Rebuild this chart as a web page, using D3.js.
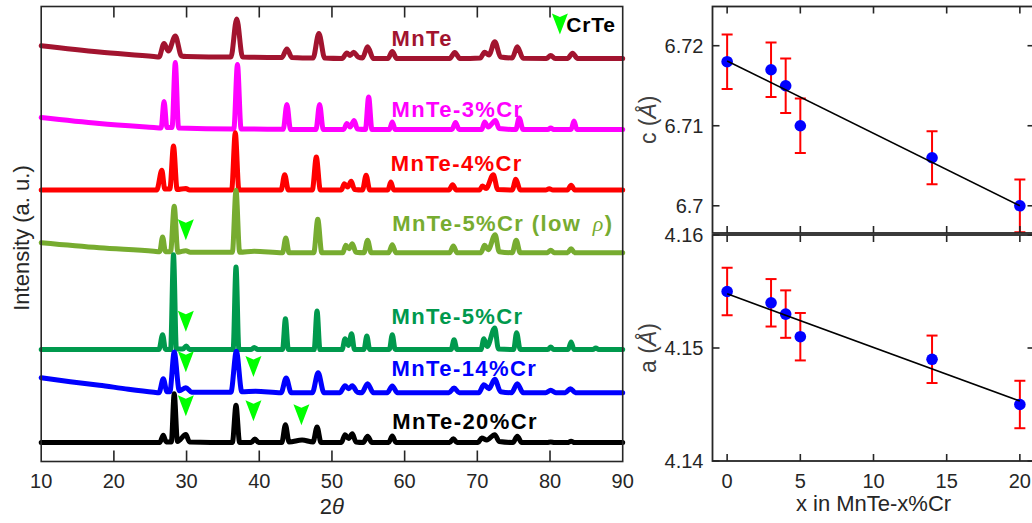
<!DOCTYPE html>
<html><head><meta charset="utf-8">
<script src="https://cdn.jsdelivr.net/npm/d3@7"></script>
<style>
body{margin:0;background:#fff;}
svg text{font-family:"Liberation Sans",Arial,sans-serif;}
</style></head>
<body><svg id="c" width="1032" height="523"></svg>
<script>
// ---------------- DATA ----------------
const thetaTicks = [10,20,30,40,50,60,70,80,90];
const seriesNames = ["MnTe","MnTe-3%Cr","MnTe-4%Cr","MnTe-5%Cr (low ρ)","MnTe-5%Cr","MnTe-14%Cr","MnTe-20%Cr"];
// vertical stacking offsets (a.u.)
const offsets = [403, 332, 271.5, 208.8, 112, 68.8, 19];
// XRD patterns: [2theta, intensity above offset (a.u.)]
const xrdMnTe = [[10,12.8],[18,6.5],[25.5,2],[26.2,1.5],[26.9,15],[27.5,7.5],[28.45,22.5],[29.3,2.5],[30,2],[36.1,1.5],[36.9,39.5],[37.7,1.5],[43.1,1],[43.8,9.5],[44.5,1],[47.4,0.5],[48.2,25],[49.0,0.5],[51.4,0],[52.05,5.5],[52.5,3],[53.0,6.3],[53.6,1.5],[54.2,0.5],[54.9,11.8],[55.7,0],[57.7,0],[58.3,7],[58.9,0],[66.2,0],[66.9,6],[67.6,0],[70.4,0.5],[71.0,6.3],[71.6,3.5],[72.4,16.8],[73.2,1.5],[74.8,0.5],[75.5,11.8],[76.3,0.2],[79.5,0],[80.1,3],[80.7,0],[82.4,0],[83.1,5.3],[83.8,0],[90,0]];
const xrdCr3 = [[10,12],[18,6],[25.5,2],[26.5,1.5],[26.9,28],[27.3,2],[28.0,2],[28.45,67],[28.9,1.5],[36.5,0.5],[37.0,65],[37.5,0.5],[43.3,0.3],[43.8,25],[44.3,0],[47.8,0],[48.3,25],[48.8,0],[51.6,0],[52.05,6],[52.5,2.5],[53.05,9],[53.5,0.5],[54.6,0],[55.05,32.5],[55.5,0],[57.9,0],[58.3,7.5],[58.7,0],[66.5,0],[67.0,7],[67.5,0],[70.6,0],[71.0,7.5],[71.5,2.5],[72.5,9],[73.0,1],[75.3,0],[75.75,11.5],[76.3,0],[79.7,0],[80.1,1.5],[80.5,0],[82.9,0],[83.3,8.5],[83.7,0],[90,0]];
const xrdCr4 = [[10,0],[25.9,0],[26.6,19.7],[27.0,1],[27.7,1],[28.2,44],[28.7,0.5],[29.9,1.5],[30.4,0],[36.2,0],[36.7,57.3],[37.2,0],[43.0,0],[43.5,15.3],[44.0,0],[47.3,0],[47.85,33],[48.4,0],[51.3,0],[51.7,6.3],[52.15,3],[52.65,8.7],[53.1,0.5],[54.2,0],[54.7,14.7],[55.2,0],[57.7,0],[58.1,8],[58.5,0],[66.1,0],[66.6,5.3],[67.1,0],[70.3,0],[70.7,4],[71.2,1.5],[72.2,15.3],[72.8,0.5],[74.8,0],[75.3,10.7],[75.9,0],[79.4,0],[79.9,1.3],[80.4,0],[82.4,0],[82.9,4.7],[83.4,0],[90,0]];
const xrdCr5low = [[10,10],[18,5],[25.5,1.5],[26.3,1],[26.7,15.7],[27.1,1],[27.8,1],[28.3,46.4],[28.8,0.5],[29.9,2],[30.5,0.5],[36.3,0.5],[36.8,62.4],[37.3,0.5],[39.3,1.5],[43.2,0],[43.65,14.7],[44.1,0],[47.5,0],[48.05,33.4],[48.6,0],[51.5,0],[51.9,7.4],[52.35,4],[52.8,9],[53.3,0.5],[54.4,0],[54.9,12.4],[55.4,0],[57.8,0],[58.3,8],[58.8,0],[66.2,0],[66.7,6.7],[67.2,0],[70.5,0],[71.0,7.4],[71.5,3],[72.45,18],[73.0,1],[74.8,0],[75.35,12.4],[75.9,0],[79.6,0],[80.1,2.4],[80.6,0],[82.4,0],[82.9,4],[83.4,0],[90,0]];
const xrdCr5 = [[10,0],[26.2,0],[26.7,14.8],[27.1,0],[27.8,0],[28.2,94.8],[28.6,0.5],[29.5,0.5],[29.95,3.5],[30.4,0],[36.4,0],[36.8,82.5],[37.2,0],[38.9,0],[39.3,2],[39.8,0],[43.2,0],[43.6,30.8],[44.0,0],[47.55,0],[47.95,38.5],[48.35,0],[51.4,0],[51.8,10.8],[52.25,4],[52.7,15.8],[53.1,0],[54.4,0],[54.8,13.5],[55.2,0],[57.9,0],[58.3,14.8],[58.7,0],[66.4,0],[66.8,9.8],[67.2,0],[70.5,0],[70.9,10.8],[71.35,3],[72.4,21.5],[72.9,0.5],[75.0,0],[75.4,16.8],[75.9,0],[79.7,0],[80.1,2.5],[80.5,0],[82.5,0],[82.9,7.5],[83.3,0],[85.9,0],[86.3,1.5],[86.7,0],[90,0]];
const xrdCr14 = [[10,15],[14,11],[18,7.5],[22,3.5],[25.5,0.5],[26.2,0],[26.8,14],[27.3,1],[27.7,1],[28.3,40.7],[29.0,2],[29.9,5],[30.7,0.5],[36.1,0.5],[36.85,41.4],[37.6,1],[39.5,1.5],[43.0,0],[43.7,14.7],[44.4,0],[47.3,0],[48.1,20],[48.9,0],[51.1,0],[51.8,7],[52.3,4],[52.8,7],[53.5,0.5],[54.1,0],[54.9,9],[55.7,0],[57.6,0],[58.3,6.7],[59.0,0],[66.1,0],[66.8,4.7],[67.5,0],[70.2,0],[70.9,8],[71.6,4],[72.4,13.4],[73.2,1],[74.7,0],[75.5,9],[76.3,0],[79.4,0],[80.1,2.4],[80.8,0],[82.1,0],[82.8,4],[83.5,0],[90,0]];
const xrdCr20 = [[10,0],[26.3,0],[26.8,7.2],[27.2,0.5],[27.9,0.5],[28.3,48.8],[28.75,1],[29.9,8],[30.4,0.5],[36.3,0],[36.8,37.2],[37.3,0],[38.9,0],[39.4,3.5],[39.9,0],[43.1,0],[43.6,17.8],[44.1,0.5],[45.9,2.5],[47.4,0.5],[47.95,15.5],[48.5,0],[51.3,0],[51.8,7.8],[52.3,4],[52.8,8.8],[53.3,0.5],[54.3,0],[54.9,6.2],[55.5,0],[57.8,0],[58.3,6.5],[58.8,0],[66.2,0],[66.7,3.8],[67.2,0],[70.1,0],[70.6,4.5],[71.3,2.5],[72.4,7.8],[73.0,1],[74.9,0],[75.5,6.2],[76.1,0],[79.6,0],[80.1,0.5],[80.6,0],[82.4,0],[82.9,1.2],[83.4,0],[90,0]];
const xrdData = [xrdMnTe, xrdCr3, xrdCr4, xrdCr5low, xrdCr5, xrdCr14, xrdCr20];
// CrTe reflections marked: [2theta, absolute intensity]
const crteMarks = [[29.9,231.8],[29.9,140.3],[29.9,99.7],[39.2,95],[29.9,55.7],[39.2,50.7],[45.8,46.7]];
// lattice parameters
const xCr = [0,3,4,5,14,20];
const cVals = [6.718,6.717,6.715,6.710,6.706,6.700];
const cErr = [0.0034,0.0034,0.0034,0.0034,0.0033,0.0033];
const aVals = [4.155,4.154,4.153,4.151,4.149,4.145];
const aErr = [0.0021,0.0021,0.0021,0.0021,0.0021,0.0021];
const cFit = [[0,6.7181],[20,6.7000]];
const aFit = [[0,4.1548],[20,4.1453]];
const xCrTicks = [0,5,10,15,20];
const cTicks = [6.70,6.71,6.72];
const aTicks = [4.14,4.15,4.16];

// ---------------- STYLE ----------------
const colors = ["#A2142F","#FF00FF","#FF0000","#77AC30","#00994D","#0000FF","#000000"];
const labelPos = [[58.2,415.8],[58.2,344.8],[58.1,290.5],[58.3,230.5],[58.2,137.5],[58.2,85.8],[58.3,32.5]];
const axisCol = "#262626";
const svg = d3.select("#c");

// ---------------- LEFT PANEL ----------------
const L = {x0:41.2, x1:622.7, y0:6.5, y1:461.5};
const xs = d3.scaleLinear().domain([10,90]).range([L.x0,L.x1]);
const ys = d3.scaleLinear().domain([0,455]).range([L.y1,L.y0]);

const lineGen = d3.line().x(d=>xs(d[0])).y(d=>ys(d[1])).curve(d3.curveMonotoneX);
xrdData.forEach((s,i)=>{
  svg.append("path").datum(s.map(p=>[p[0],p[1]+offsets[i]]))
    .attr("d",lineGen).attr("fill","none").attr("stroke",colors[i])
    .attr("stroke-width",5).attr("stroke-linejoin","round").attr("stroke-linecap","round");
});
const triPath = "M-8,-10.5 L0,-7 L8,-10.5 L0,10.5 Z";
crteMarks.forEach(m=>{
  svg.append("path").attr("d",triPath).attr("fill","#00FF00")
    .attr("transform",`translate(${xs(m[0])},${ys(m[1])})`);
});
// legend
svg.append("path").attr("d",triPath).attr("fill","#00FF00")
  .attr("transform",`translate(${xs(81.36)},${ys(437.5)})`);
svg.append("text").attr("x",xs(82.25)).attr("y",ys(429.8)).attr("font-size",21)
  .attr("font-weight","bold").attr("fill","#000").attr("letter-spacing",0.8).text("CrTe");
// series labels
seriesNames.forEach((n,i)=>{
  const t = svg.append("text").attr("x",xs(labelPos[i][0])).attr("y",ys(labelPos[i][1]))
    .attr("font-size",22).attr("font-weight","bold").attr("fill",colors[i]).attr("letter-spacing",1.4);
  if(n.includes("ρ")){
    t.append("tspan").text("MnTe-5%Cr (low ");
    t.append("tspan").attr("font-family","'Liberation Serif',serif").attr("font-style","italic")
      .attr("font-weight","normal").attr("dx",4).text("ρ");
    t.append("tspan").text(")");
  } else t.text(n);
});
// axes box
const gL = svg.append("g");
gL.append("rect").attr("x",L.x0).attr("y",L.y0).attr("width",L.x1-L.x0).attr("height",L.y1-L.y0)
  .attr("fill","none").attr("stroke",axisCol).attr("stroke-width",1.6);
thetaTicks.forEach(t=>{
  if(t>10 && t<90){
    gL.append("line").attr("x1",xs(t)).attr("x2",xs(t)).attr("y1",L.y1).attr("y2",L.y1-11).attr("stroke",axisCol).attr("stroke-width",1.6);
    gL.append("line").attr("x1",xs(t)).attr("x2",xs(t)).attr("y1",L.y0).attr("y2",L.y0+11).attr("stroke",axisCol).attr("stroke-width",1.6);
  }
  gL.append("text").attr("x",xs(t)).attr("y",L.y1+26).attr("text-anchor","middle")
    .attr("font-size",20).attr("fill",axisCol).text(t);
});
const xl = gL.append("text").attr("x",(L.x0+L.x1)/2).attr("y",514).attr("text-anchor","middle")
  .attr("font-size",22).attr("fill",axisCol).attr("font-family","'Liberation Serif',serif");
xl.append("tspan").text("2");
xl.append("tspan").attr("font-style","italic").text("θ");
gL.append("text").attr("transform",`translate(29,${(L.y0+L.y1)/2+4}) rotate(-90)`)
  .attr("text-anchor","middle").attr("font-size",22).attr("fill",axisCol).text("Intensity (a. u.)");

// ---------------- RIGHT PANELS ----------------
const R = {x0:712.5, x1:1034.5};
const xr = d3.scaleLinear().domain([-1,21]).range([R.x0,R.x1]);
const panels = [
  {vals:cVals, err:cErr, fit:cFit, ticks:cTicks, dom:[6.6966,6.7249], y0:6.5, y1:233, lab:"c", fmt:d=>d===6.7?"6.7":d.toFixed(2)},
  {vals:aVals, err:aErr, fit:aFit, ticks:aTicks, dom:[4.14,4.16], y0:235, y1:461, lab:"a", fmt:d=>d.toFixed(2)}
];
panels.forEach((p,pi)=>{
  const y = d3.scaleLinear().domain(p.dom).range([p.y1,p.y0]);
  const g = svg.append("g");
  const cid = "clip"+pi;
  svg.append("clipPath").attr("id",cid).append("rect").attr("x",R.x0).attr("y",p.y0).attr("width",R.x1-R.x0).attr("height",p.y1-p.y0);
  const gd = g.append("g").attr("clip-path",`url(#${cid})`);
  xCr.forEach((x,i)=>{
    const X=xr(x), yt=y(p.vals[i]+p.err[i]), yb=y(p.vals[i]-p.err[i]);
    gd.append("line").attr("x1",X).attr("x2",X).attr("y1",yt).attr("y2",yb).attr("stroke","#FF0000").attr("stroke-width",2);
    [yt,yb].forEach(yy=>gd.append("line").attr("x1",X-5.5).attr("x2",X+5.5).attr("y1",yy).attr("y2",yy).attr("stroke","#FF0000").attr("stroke-width",2));
  });
  xCr.forEach((x,i)=>{
    gd.append("circle").attr("cx",xr(x)).attr("cy",y(p.vals[i])).attr("r",5.8).attr("fill","#0000FF");
  });
  gd.append("line").attr("x1",xr(p.fit[0][0])).attr("y1",y(p.fit[0][1])).attr("x2",xr(p.fit[1][0])).attr("y2",y(p.fit[1][1]))
    .attr("stroke","#000").attr("stroke-width",1.6);
  g.append("rect").attr("x",R.x0).attr("y",p.y0).attr("width",R.x1-R.x0).attr("height",p.y1-p.y0)
    .attr("fill","none").attr("stroke",axisCol).attr("stroke-width",1.8);
  xCrTicks.forEach(t=>{
    g.append("line").attr("x1",xr(t)).attr("x2",xr(t)).attr("y1",p.y1).attr("y2",p.y1-7).attr("stroke",axisCol).attr("stroke-width",1.6);
    g.append("line").attr("x1",xr(t)).attr("x2",xr(t)).attr("y1",p.y0).attr("y2",p.y0+7).attr("stroke",axisCol).attr("stroke-width",1.6);
  });
  p.ticks.forEach(t=>{
    const Y=y(t);
    g.append("line").attr("x1",R.x0).attr("x2",R.x0+7).attr("y1",Y).attr("y2",Y).attr("stroke",axisCol).attr("stroke-width",1.6);
    g.append("line").attr("x1",R.x1).attr("x2",R.x1-7).attr("y1",Y).attr("y2",Y).attr("stroke",axisCol).attr("stroke-width",1.6);
    g.append("text").attr("x",R.x0-9).attr("y",Y+7).attr("text-anchor","end").attr("font-size",20).attr("fill",axisCol).text(p.fmt(t));
  });
  const lt = g.append("text").attr("transform",`translate(656,${(p.y0+p.y1)/2}) rotate(-90)`)
    .attr("text-anchor","middle").attr("font-size",23).attr("fill","#404040").attr("font-family","'Liberation Serif',serif");
  lt.append("tspan").text(p.lab+" (");
  lt.append("tspan").attr("font-style","italic").text("Å");
  lt.append("tspan").text(")");
  if(pi===1){
    xCrTicks.forEach(t=>{
      g.append("text").attr("x",xr(t)).attr("y",p.y1+27).attr("text-anchor","middle").attr("font-size",20).attr("fill",axisCol).text(t);
    });
    g.append("text").attr("x",xr(10)).attr("y",511).attr("text-anchor","middle").attr("font-size",22).attr("fill",axisCol).text("x in MnTe-x%Cr");
  }
});
</script></body></html>
